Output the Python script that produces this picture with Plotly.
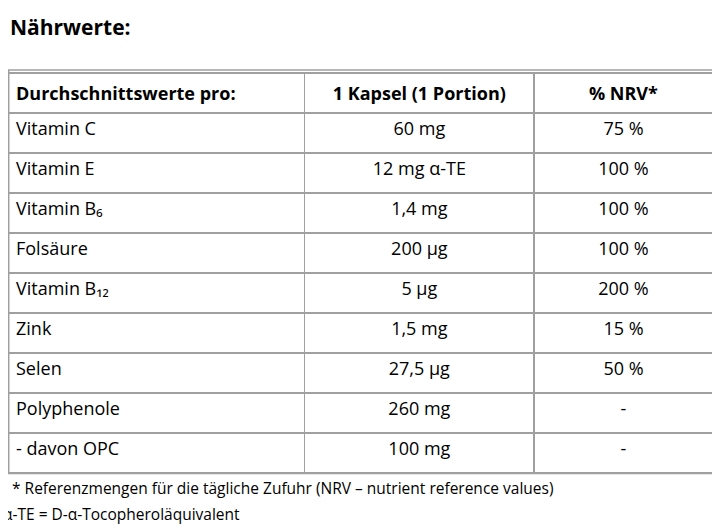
import plotly.graph_objects as go

headers = ["<b>Durchschnittswerte pro:</b>", "<b>1 Kapsel (1 Portion)</b>", "<b>% NRV*</b>"]
nutrients = ["Vitamin C", "Vitamin E", "Vitamin B₆", "Folsäure", "Vitamin B₁₂",
             "Zink", "Selen", "Polyphenole", "- davon OPC"]
amounts = ["60 mg", "12 mg α-TE", "1,4 mg", "200 µg", "5 µg", "1,5 mg", "27,5 µg", "260 mg", "100 mg"]
nrv = ["75 %", "100 %", "100 %", "100 %", "200 %", "15 %", "50 %", "-", "-"]

fnt = "Open Sans, Noto Sans, sans-serif"

# page body adds an 8px margin, so positions are shifted up/left to compensate
fig = go.Figure(go.Table(
    domain=dict(x=[0.0, 0.98], y=[0.10, 0.877]),
    columnwidth=[295, 228, 178],
    header=dict(values=headers, align=["left", "center", "center"], height=40,
                font=dict(family=fnt, size=18, color="black"),
                fill_color="white", line=dict(color="#a0a0a0", width=1.5)),
    cells=dict(values=[nutrients, amounts, nrv], align=["left", "center", "center"], height=40,
               font=dict(family=fnt, size=18, color="black"),
               fill_color="white", line=dict(color="#a0a0a0", width=1.5)),
))

fig.add_shape(type="rect", xref="paper", yref="paper", x0=0.001, x1=0.981, y0=0.12, y1=0.883,
              line=dict(color="#a0a0a0", width=1.5))

fig.add_annotation(text="<b>Nährwerte:</b>", x=0.0, y=0.965, xref="paper", yref="paper",
                   xanchor="left", yanchor="middle", showarrow=False,
                   font=dict(family=fnt, size=21, color="black"))
fig.add_annotation(text="* Referenzmengen für die tägliche Zufuhr (NRV – nutrient reference values)",
                   x=0.003, y=0.092, xref="paper", yref="paper", xanchor="left", yanchor="middle",
                   showarrow=False, font=dict(family=fnt, size=15.5, color="black"))
fig.add_annotation(text="α-TE = D-α-Tocopheroläquivalent",
                   x=-0.01, y=0.043, xref="paper", yref="paper", xanchor="left", yanchor="middle",
                   showarrow=False, font=dict(family=fnt, size=15.5, color="black"))

fig.update_layout(width=720, height=529, margin=dict(l=0, r=0, t=0, b=0),
                  paper_bgcolor="white", plot_bgcolor="white")
fig.write_html("out.html")
